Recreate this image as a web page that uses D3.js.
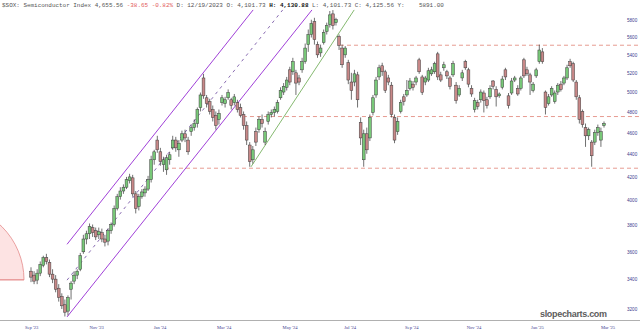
<!DOCTYPE html>
<html><head><meta charset="utf-8">
<script src="https://cdn.jsdelivr.net/npm/d3@7"></script>
<style>html,body{margin:0;padding:0;background:#fff;}svg{display:block;}</style>
</head><body>
<svg id="chart" width="640" height="335"></svg>
<script>
// ---- data ----
const openV = [3461,3433,3398,3447,3503,3559,3524,3440,3405,3342,3286,3230,3188,3335,3391,3433,3475,3602,3698,3738,
3786,3762,3730,3746,3698,3682,3762,3810,3938,4034,4082,4114,4170,4194,4058,3954,4034,4066,4098,4178,
4353,4533,4425,4309,4264,4353,4461,4533,4443,4533,4592,4533,4612,4651,4690,4847,5151,4945,4906,4827,
4769,4729,4896,4886,4945,4925,4896,4896,4847,4778,4671,4487,4353,4612,4631,4729,4514,4710,4778,4798,
4808,4945,5004,5053,5238,5217,5206,5151,5238,5326,5517,5633,5784,5517,5424,5540,5668,5749,5877,5772,
5610,5478,5402,5315,5108,5108,5184,4700,4353,4592,4553,4798,4974,5162,5282,5217,5151,5075,4749,4612,
4808,4955,4974,5042,5086,5108,5347,5162,5108,5129,5195,5217,5413,5184,5260,5217,5151,5184,5075,4974,
5151,5326,5238,5042,4827,4896,4925,4994,4925,4955,5119,5031,4965,5053,5238,4965,4994,5129,5042,5042,
5347,5238,5184,5020,5173,5326,5435,5004,4886,4974,4906,5004,5086,5097,5151,5326,5304,5108,4945,4808,
4651,4573,4514,4514,4602,4533,4671];
const highV = [3489,3461,3475,3531,3573,3587,3545,3475,3433,3370,3307,3265,3293,3391,3461,3475,3594,3730,3762,3818,
3810,3786,3786,3778,3730,3778,3826,3962,4058,4114,4138,4202,4229,4220,4082,4058,4098,4122,4211,4389,
4443,4573,4461,4380,4398,4425,4573,4563,4533,4622,4631,4563,4680,4729,4847,4999,5195,4974,4935,4867,
4808,4827,4974,4955,5031,4945,4984,4925,4886,4808,4710,4514,4478,4651,4759,4778,4651,4808,4827,4857,
4925,5053,5097,5162,5271,5369,5238,5184,5369,5529,5691,5807,5830,5552,5517,5691,5772,5912,5923,5830,
5633,5517,5500,5347,5206,5238,5217,4749,4631,4651,4778,4974,5162,5293,5315,5238,5184,5108,4778,4749,
4925,4984,5129,5151,5119,5173,5369,5184,5173,5260,5271,5326,5435,5217,5326,5238,5173,5336,5108,5075,
5238,5347,5260,5075,4945,4925,5031,5020,4955,5075,5129,5064,5000,5173,5260,4994,5151,5173,5075,5173,
5369,5271,5206,5108,5260,5517,5478,5020,4984,5064,5020,5097,5119,5173,5293,5358,5326,5129,4974,4827,
4690,4651,4533,4631,4680,4651,4710];
const lowV = [3384,3370,3370,3426,3489,3510,3419,3377,3314,3251,3202,3153,3160,3265,3370,3405,3461,3587,3658,3698,
3714,3690,3698,3674,3642,3650,3738,3794,3922,4010,4058,4098,4146,4034,3898,3922,4018,4034,4082,4154,
4309,4416,4300,4246,4220,4309,4443,4425,4380,4514,4514,4398,4573,4622,4651,4808,4935,4847,4778,4710,
4631,4680,4867,4847,4925,4827,4867,4798,4749,4631,4487,4291,4318,4478,4602,4651,4487,4680,4749,4759,
4788,4925,4974,5020,5075,5184,4974,5075,5206,5304,5435,5598,5517,5369,5380,5517,5633,5714,5691,5738,
5456,5260,5369,5086,4925,5064,4847,4487,4291,4407,4524,4769,4945,5129,5173,4994,5075,4749,4504,4582,
4788,4867,4955,5020,5020,5075,5195,4974,5075,5108,5173,5195,5129,5108,5228,5140,5031,5162,4886,4955,
5119,5238,5053,4955,4798,4827,4896,4798,4837,4935,5031,4857,4945,5031,5129,4837,4974,5108,4965,5020,
5151,5173,4974,5000,5151,5304,5304,4778,4867,4955,4886,4974,5009,5075,5129,5260,5108,4925,4690,4651,
4470,4533,4291,4487,4573,4470,4651];
const closeV = [3419,3391,3447,3510,3559,3531,3440,3405,3335,3279,3223,3181,3279,3377,3433,3461,3573,3698,3738,3794,
3746,3714,3754,3698,3674,3762,3810,3938,4034,4082,4114,4178,4202,4058,3938,4034,4074,4098,4178,4353,
4425,4443,4336,4353,4371,4398,4533,4461,4504,4592,4553,4425,4651,4690,4827,4974,4965,4886,4808,4749,
4671,4788,4945,4925,5000,4867,4955,4827,4769,4671,4533,4336,4443,4514,4729,4690,4612,4778,4798,4827,
4896,5020,5064,5129,5108,5326,5097,5108,5326,5478,5633,5761,5575,5402,5478,5656,5738,5865,5738,5807,
5506,5293,5478,5129,5020,5195,4925,4553,4592,4443,4749,4945,5129,5260,5217,5020,5108,4778,4533,4710,
4896,4906,5020,5119,5053,5151,5217,5000,5151,5228,5238,5304,5162,5129,5293,5173,5064,5304,4916,5042,
5206,5260,5086,4984,4916,4857,5004,4916,4867,5042,5064,4955,4984,5140,5162,4867,5119,5151,4984,5151,
5173,5195,5108,5086,5238,5456,5326,4847,4955,5042,4994,5075,5031,5151,5260,5282,5129,4955,4729,4680,
4573,4631,4389,4602,4651,4612,4690];

const yTicks = [3200,3400,3600,3800,4000,4200,4400,4600,4800,5000,5200,5400,5600,5800];
const monthLabels = ["Sep '23","Nov '23","Jan '24","Mar '24","May '24","Jul '24","Sep '24","Nov '24","Jan '25","Mar '25"];
const monthIdx = [0.2,21.3,41.9,62.7,84.1,103.6,123.6,143.8,164.4,187.3];

// trend lines: [index1, value1, index2, value2]
const channelLower = [11.7,3150,91.2,5925];
const channelUpper = [11.7,3658,72.1,5925];
const channelMid   = [11.7,3398,81.7,5925];
const greenTrend   = [71.4,4290,104.9,5925];
// horizontal levels: [value, startIndex]
const hLevels = [[5510,100.3],[4758,68.8],[4278,43.5]];

// ---- drawing ----
const svg = d3.select("#chart");
const W = 640, H = 335;
const n = closeV.length;
const x = d3.scaleLinear().domain([0, n-1]).range([31, 604]);
const y = d3.scaleLog().domain([3200, 5800]).range([309.3, 20.3]);

svg.append("rect").attr("width",W).attr("height",H).attr("fill","#fff");

// pink half-disc annotation on the left
const arcCy = y(3400);
svg.append("path")
  .attr("d", d3.arc()({innerRadius:0, outerRadius:75, startAngle:0, endAngle:Math.PI/2}))
  .attr("transform", `translate(-51,${arcCy})`)
  .attr("fill","#fde3e3").attr("stroke","#e48a8a").attr("stroke-width",0.8);
svg.append("line").attr("x1",0).attr("x2",24).attr("y1",arcCy).attr("y2",arcCy)
  .attr("stroke","#e48a8a").attr("stroke-width",0.8);

// horizontal dashed levels
hLevels.forEach(([v, s]) => {
  svg.append("line").attr("x1", x(s)).attr("x2", W).attr("y1", y(v)).attr("y2", y(v))
    .attr("stroke","#e39085").attr("stroke-width",0.9).attr("stroke-dasharray","4,3");
});

// channel & trend lines
function seg(p, color, dash, w){
  svg.append("line").attr("x1",x(p[0])).attr("y1",y(p[1])).attr("x2",x(p[2])).attr("y2",y(p[3]))
    .attr("stroke",color).attr("stroke-width",w).attr("stroke-dasharray",dash||null);
}
seg(channelLower,"#a040d8",null,1);
seg(channelUpper,"#a040d8",null,1);
seg(channelMid,"#7a5aa8","3,4",0.9);
seg(greenTrend,"#77b160",null,0.9);

// candles
const cw = 2.8;
const g = svg.append("g");
for (let i=0;i<n;i++){
  const o=openV[i], c=closeV[i], h=highV[i], l=lowV[i];
  const up = c >= o;
  const cx = x(i);
  g.append("line").attr("x1",cx).attr("x2",cx).attr("y1",y(h)).attr("y2",y(l))
    .attr("stroke","#333").attr("stroke-width",0.7);
  const top = y(Math.max(o,c)), bot = y(Math.min(o,c));
  g.append("rect").attr("x",cx-cw/2).attr("y",top).attr("width",cw).attr("height",Math.max(0.8,bot-top))
    .attr("fill", up ? "#78c878" : "#c88888").attr("stroke","#3c3c3c").attr("stroke-width",0.5);
}

// bottom separator
svg.append("line").attr("x1",0).attr("x2",W).attr("y1",320.5).attr("y2",320.5)
  .attr("stroke","#b0b0b0").attr("stroke-width",1.2);

// right axis labels
svg.append("g").selectAll("text").data(yTicks).join("text")
  .attr("x",627).attr("y",d=>y(d)+1.6).attr("font-family","Liberation Sans, Arial, sans-serif")
  .attr("font-size",4.6).attr("fill","#3d3d8f").text(d=>d);

// x-axis labels
svg.append("g").selectAll("text").data(monthLabels).join("text")
  .attr("x",(d,i)=>x(monthIdx[i])).attr("y",329).attr("text-anchor","middle")
  .attr("font-family","Liberation Serif, Times New Roman, serif")
  .attr("font-size",4.6).attr("fill","#3d3d8f").text(d=>d);

// watermark
svg.append("text").attr("x",540).attr("y",316.5).attr("textLength",67)
  .attr("font-family","Liberation Sans, Arial, sans-serif").attr("font-weight","bold")
  .attr("font-size",9).attr("fill","#5c5c5c").text("slopecharts.com");

// header
const hdr = svg.append("text").attr("x",2).attr("y",7)
  .attr("font-family","Liberation Mono, DejaVu Sans Mono, monospace").attr("font-size",5.95)
  .attr("fill","#555").style("white-space","pre");
hdr.append("tspan").text("$SOX: Semiconductor Index 4,655.56 ");
hdr.append("tspan").attr("fill","#e25a5a").text("-38.65 -0.82% ");
hdr.append("tspan").text("D: 12/19/2023 O: 4,101.73 ");
hdr.append("tspan").attr("fill","#111").attr("font-weight","bold").text("H: 4,130.88");
hdr.append("tspan").text(" L: 4,101.73 C: 4,125.56 Y:    5891.00");
</script>
</body></html>
